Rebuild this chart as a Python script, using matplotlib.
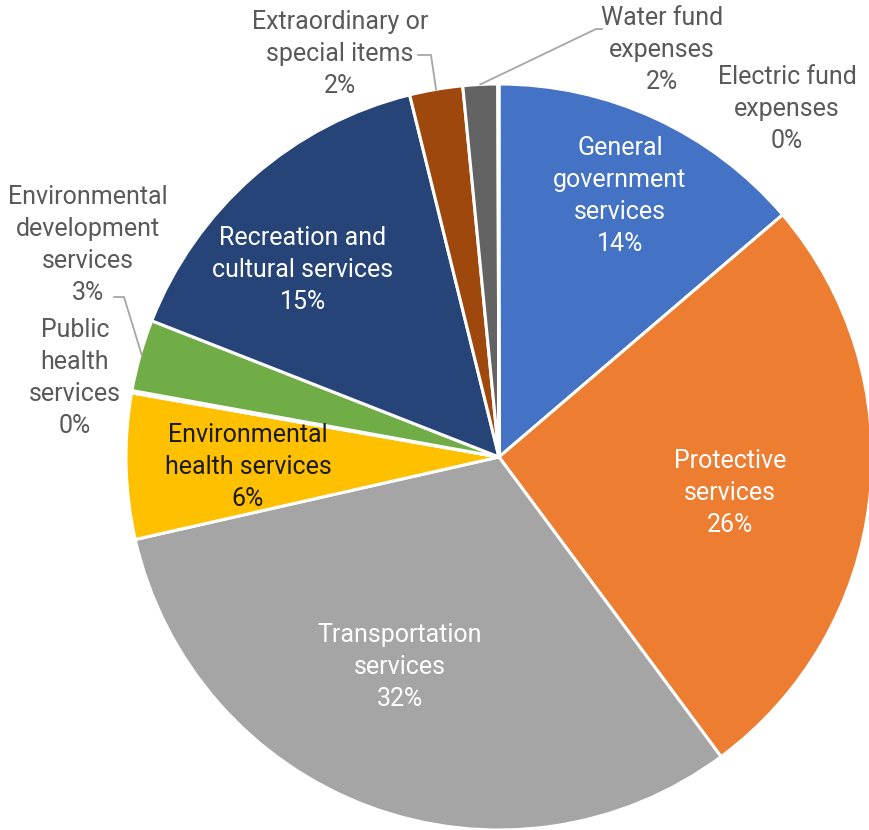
import matplotlib
matplotlib.use("Agg")
import matplotlib.pyplot as plt
import numpy as np

categories = [
    "General\ngovernment\nservices",
    "Protective\nservices",
    "Transportation\nservices",
    "Environmental\nhealth services",
    "Public\nhealth\nservices",
    "Environmental\ndevelopment\nservices",
    "Recreation and\ncultural services",
    "Extraordinary or\nspecial items",
    "Water fund\nexpenses",
    "Electric fund\nexpenses",
]
shares = [13.75, 26.1, 31.6, 6.3, 0.1, 3.1, 15.2, 2.3, 1.5, 0.05]
colors = ["#4472C4", "#ED7D31", "#A5A5A5", "#FFC000", "#5B9BD5",
          "#70AD47", "#264478", "#9E480E", "#636363", "#997300"]

W, H = 869, 830
CX, CY, R = 499, 457, 373

plt.rcParams['font.family'] = ['Roboto', 'DejaVu Sans']

fig = plt.figure(figsize=(W / 100, H / 100), dpi=100)
ax = fig.add_axes([0, 0, 1, 1])

wedges, _ = ax.pie(shares, colors=colors, startangle=90, counterclock=False,
                   radius=1.0, wedgeprops=dict(edgecolor='white', linewidth=2.2))
ax.set_xlim(-CX / R, (W - CX) / R)
ax.set_ylim(-(H - CY) / R, CY / R)
ax.set_aspect('equal')
ax.axis('off')

def px(x, y):
    return ((x - CX) / R, (CY - y) / R)

# label placement (pixel centres) and styles
label_pos = [(620, 196), (730, 493), (400, 667), (248, 467), (75, 378),
             (88, 245), (303, 270), (340, 54), (662, 50), (787, 109)]
label_col = ["white", "white", "white", "#1a1a1a", "#595959",
             "#595959", "white", "#595959", "#595959", "#595959"]

for name, v, (x, y), c in zip(categories, shares, label_pos, label_col):
    ax.text(*px(x, y), f"{name}\n{round(v)}%", ha='center', va='center',
            fontsize=18, color=c, linespacing=1.42)

def edge_point(w, frac=1.0):
    ang = np.deg2rad((w.theta1 + w.theta2) / 2)
    return (frac * np.cos(ang), frac * np.sin(ang))

lc = "#a6a6a6"
# Extraordinary leader
p = edge_point(wedges[7])
pts = [px(418, 55), px(431, 55), p]
ax.plot([q[0] for q in pts], [q[1] for q in pts], color=lc, lw=1.3)
# Water fund leader
p = edge_point(wedges[8])
pts = [p, px(596, 29), px(602, 29)]
ax.plot([q[0] for q in pts], [q[1] for q in pts], color=lc, lw=1.3)
# Environmental development leader
p = edge_point(wedges[5], 0.995)
pts = [px(114, 297), px(124, 297), p]
ax.plot([q[0] for q in pts], [q[1] for q in pts], color=lc, lw=1.3)

fig.savefig("out.png", dpi=100)
